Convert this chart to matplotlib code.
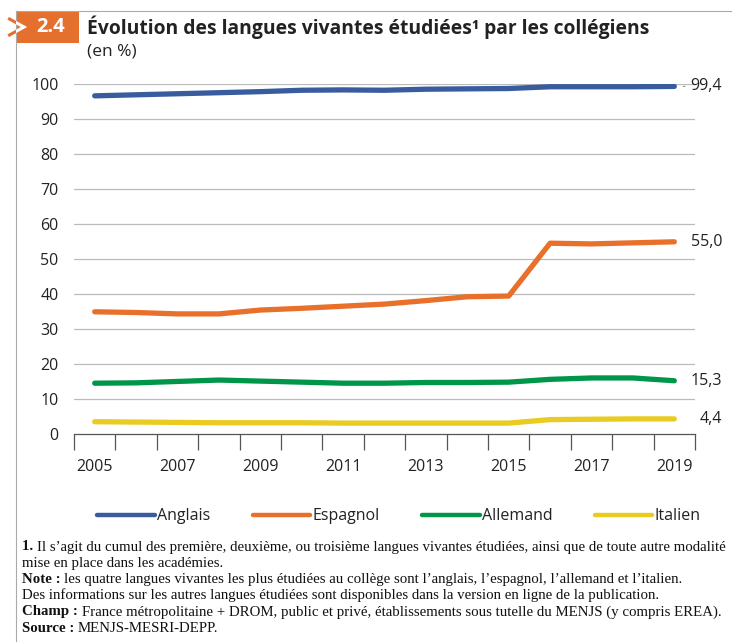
import numpy as np
import matplotlib.pyplot as plt
from matplotlib.patches import Rectangle
from matplotlib.lines import Line2D

years = list(range(2005, 2020))
anglais = [96.7, 97.0, 97.3, 97.6, 97.9, 98.3, 98.4, 98.3, 98.6, 98.7, 98.8, 99.3, 99.3, 99.3, 99.4]
espagnol = [35.0, 34.8, 34.4, 34.4, 35.5, 36.0, 36.6, 37.2, 38.2, 39.3, 39.5, 54.6, 54.4, 54.7, 55.0]
allemand = [14.6, 14.7, 15.1, 15.5, 15.2, 14.9, 14.6, 14.6, 14.8, 14.8, 14.9, 15.7, 16.1, 16.1, 15.3]
italien = [3.6, 3.5, 3.4, 3.3, 3.3, 3.3, 3.2, 3.2, 3.2, 3.2, 3.2, 4.2, 4.3, 4.4, 4.4]
names = ['Anglais', 'Espagnol', 'Allemand', 'Italien']
end_labels = ['99,4', '55,0', '15,3', '4,4']
colors = ['#385c9e', '#e8702a', '#00964a', '#e9cb22']

plt.rcParams['font.family'] = ['Open Sans', 'DejaVu Sans']
fig = plt.figure(figsize=(7.32, 6.42), dpi=100)
W, H = 732, 642
ax = fig.add_axes([74/W, 1-434.3/H, (695-74)/W, (434.3-84.3)/H])

x = np.arange(len(years))
series = [anglais, espagnol, allemand, italien]
for s, c, n in zip(series, colors, names):
    ax.plot(x, s, color=c, lw=3.8, solid_capstyle='round', label=n, zorder=3)

ax.set_xlim(-0.5, len(years)-0.5)
ax.set_ylim(0, 100)
ax.set_yticks(np.arange(0, 101, 10))
ax.tick_params(axis='y', length=0, pad=11, labelsize=11.5, labelcolor='#222222')
ax.set_xticks(np.arange(-0.5, len(years), 1))
ax.set_xticklabels([])
ax.tick_params(axis='x', which='major', length=11.5, width=0.9, color='#555555', direction='out')
ax.set_xticks(x[::2], minor=True)
ax.set_xticklabels([str(y) for y in years[::2]], minor=True)
ax.tick_params(axis='x', which='minor', length=0, pad=18, labelsize=11.5, labelcolor='#222222')
for yv in range(10, 101, 10):
    ax.axhline(yv, color='#bbbbbb', lw=0.9, zorder=1)
for sp in ['top', 'right', 'left']:
    ax.spines[sp].set_visible(False)
ax.spines['bottom'].set_color('#555555')
ax.spines['bottom'].set_linewidth(0.9)

# end value labels
for s, lab in zip(series, end_labels):
    ax.annotate(lab, xy=(x[-1], s[-1]), xycoords='data',
                xytext=(722, s[-1]), textcoords=('figure pixels', 'data'),
                ha='right', va='center', fontsize=11.5, color='#222222',
                annotation_clip=False)
ax.annotate('', xy=(x[-1]+0.15, anglais[-1]), xytext=(x[-1]+0.33, anglais[-1]),
            arrowprops=dict(arrowstyle='-', color='#999999', lw=0.8), annotation_clip=False)

# legend
leg = fig.legend(loc='center', bbox_to_anchor=(399/W, 1-516.5/H), ncol=4, frameon=False,
                 fontsize=11.5, handlelength=3.6, handletextpad=0.15, columnspacing=2.65)
for t in leg.get_texts():
    t.set_color('#222222')
for h in leg.get_lines():
    h.set_linewidth(3.2)

# frame and title box
fig.add_artist(Line2D([15.7/W, 15.7/W], [0, 1-11/H], color='#aaaaaa', lw=0.8))
fig.add_artist(Line2D([15.7/W, 1], [1-11/H, 1-11/H], color='#aaaaaa', lw=0.8))
box = Rectangle((15.7/W, 1-42.7/H), (79-15.7)/W, (42.7-11)/H, transform=fig.transFigure,
                facecolor='#e5702e', edgecolor='none')
fig.add_artist(box)
chev_x = [9.5/W, 24/W, 9.5/W]
chev_y = [1-19/H, 1-27/H, 1-35/H]
fig.add_artist(Line2D(chev_x, chev_y, color='#e5702e', lw=2.2, solid_joinstyle='miter'))
c2 = Line2D(chev_x, chev_y, color='white', lw=2.2, solid_joinstyle='miter')
fig.add_artist(c2)
c2.set_clip_path(box)
fig.text(51/W, 1-27/H, '2.4', color='white', fontsize=14.5, fontweight='bold', ha='center', va='center')
fig.text(87/W, 1-27/H, 'Évolution des langues vivantes étudiées¹ par les collégiens',
         fontsize=13.9, fontweight='bold', color='#222222', ha='left', va='center')
fig.text(87/W, 1-51.5/H, '(en %)', fontsize=12.5, color='#222222', ha='left', va='center')

# footnotes
notes = [
    ('1. ', 'Il s\u2019agit du cumul des première, deuxième, ou troisième langues vivantes étudiées, ainsi que de toute autre modalité'),
    ('', 'mise en place dans les académies.'),
    ('Note : ', 'les quatre langues vivantes les plus étudiées au collège sont l\u2019anglais, l\u2019espagnol, l\u2019allemand et l\u2019italien.'),
    ('', 'Des informations sur les autres langues étudiées sont disponibles dans la version en ligne de la publication.'),
    ('Champ : ', 'France métropolitaine + DROM, public et privé, établissements sous tutelle du MENJS (y compris EREA).'),
    ('Source : ', 'MENJS-MESRI-DEPP.'),
]
renderer = fig.canvas.get_renderer()
serif = ['Liberation Serif', 'DejaVu Serif']
for i, (b, r) in enumerate(notes):
    yy = 1 - (547 + i*16.2)/H
    x0 = 22/W
    if b:
        tb = fig.text(x0, yy, b, fontsize=10.7, fontweight='bold', family=serif, va='center', color='#111111')
        bb = tb.get_window_extent(renderer)
        x0 = bb.x1/W
    fig.text(x0, yy, r, fontsize=10.7, family=serif, va='center', color='#111111')

fig.savefig('out.png', dpi=100)
